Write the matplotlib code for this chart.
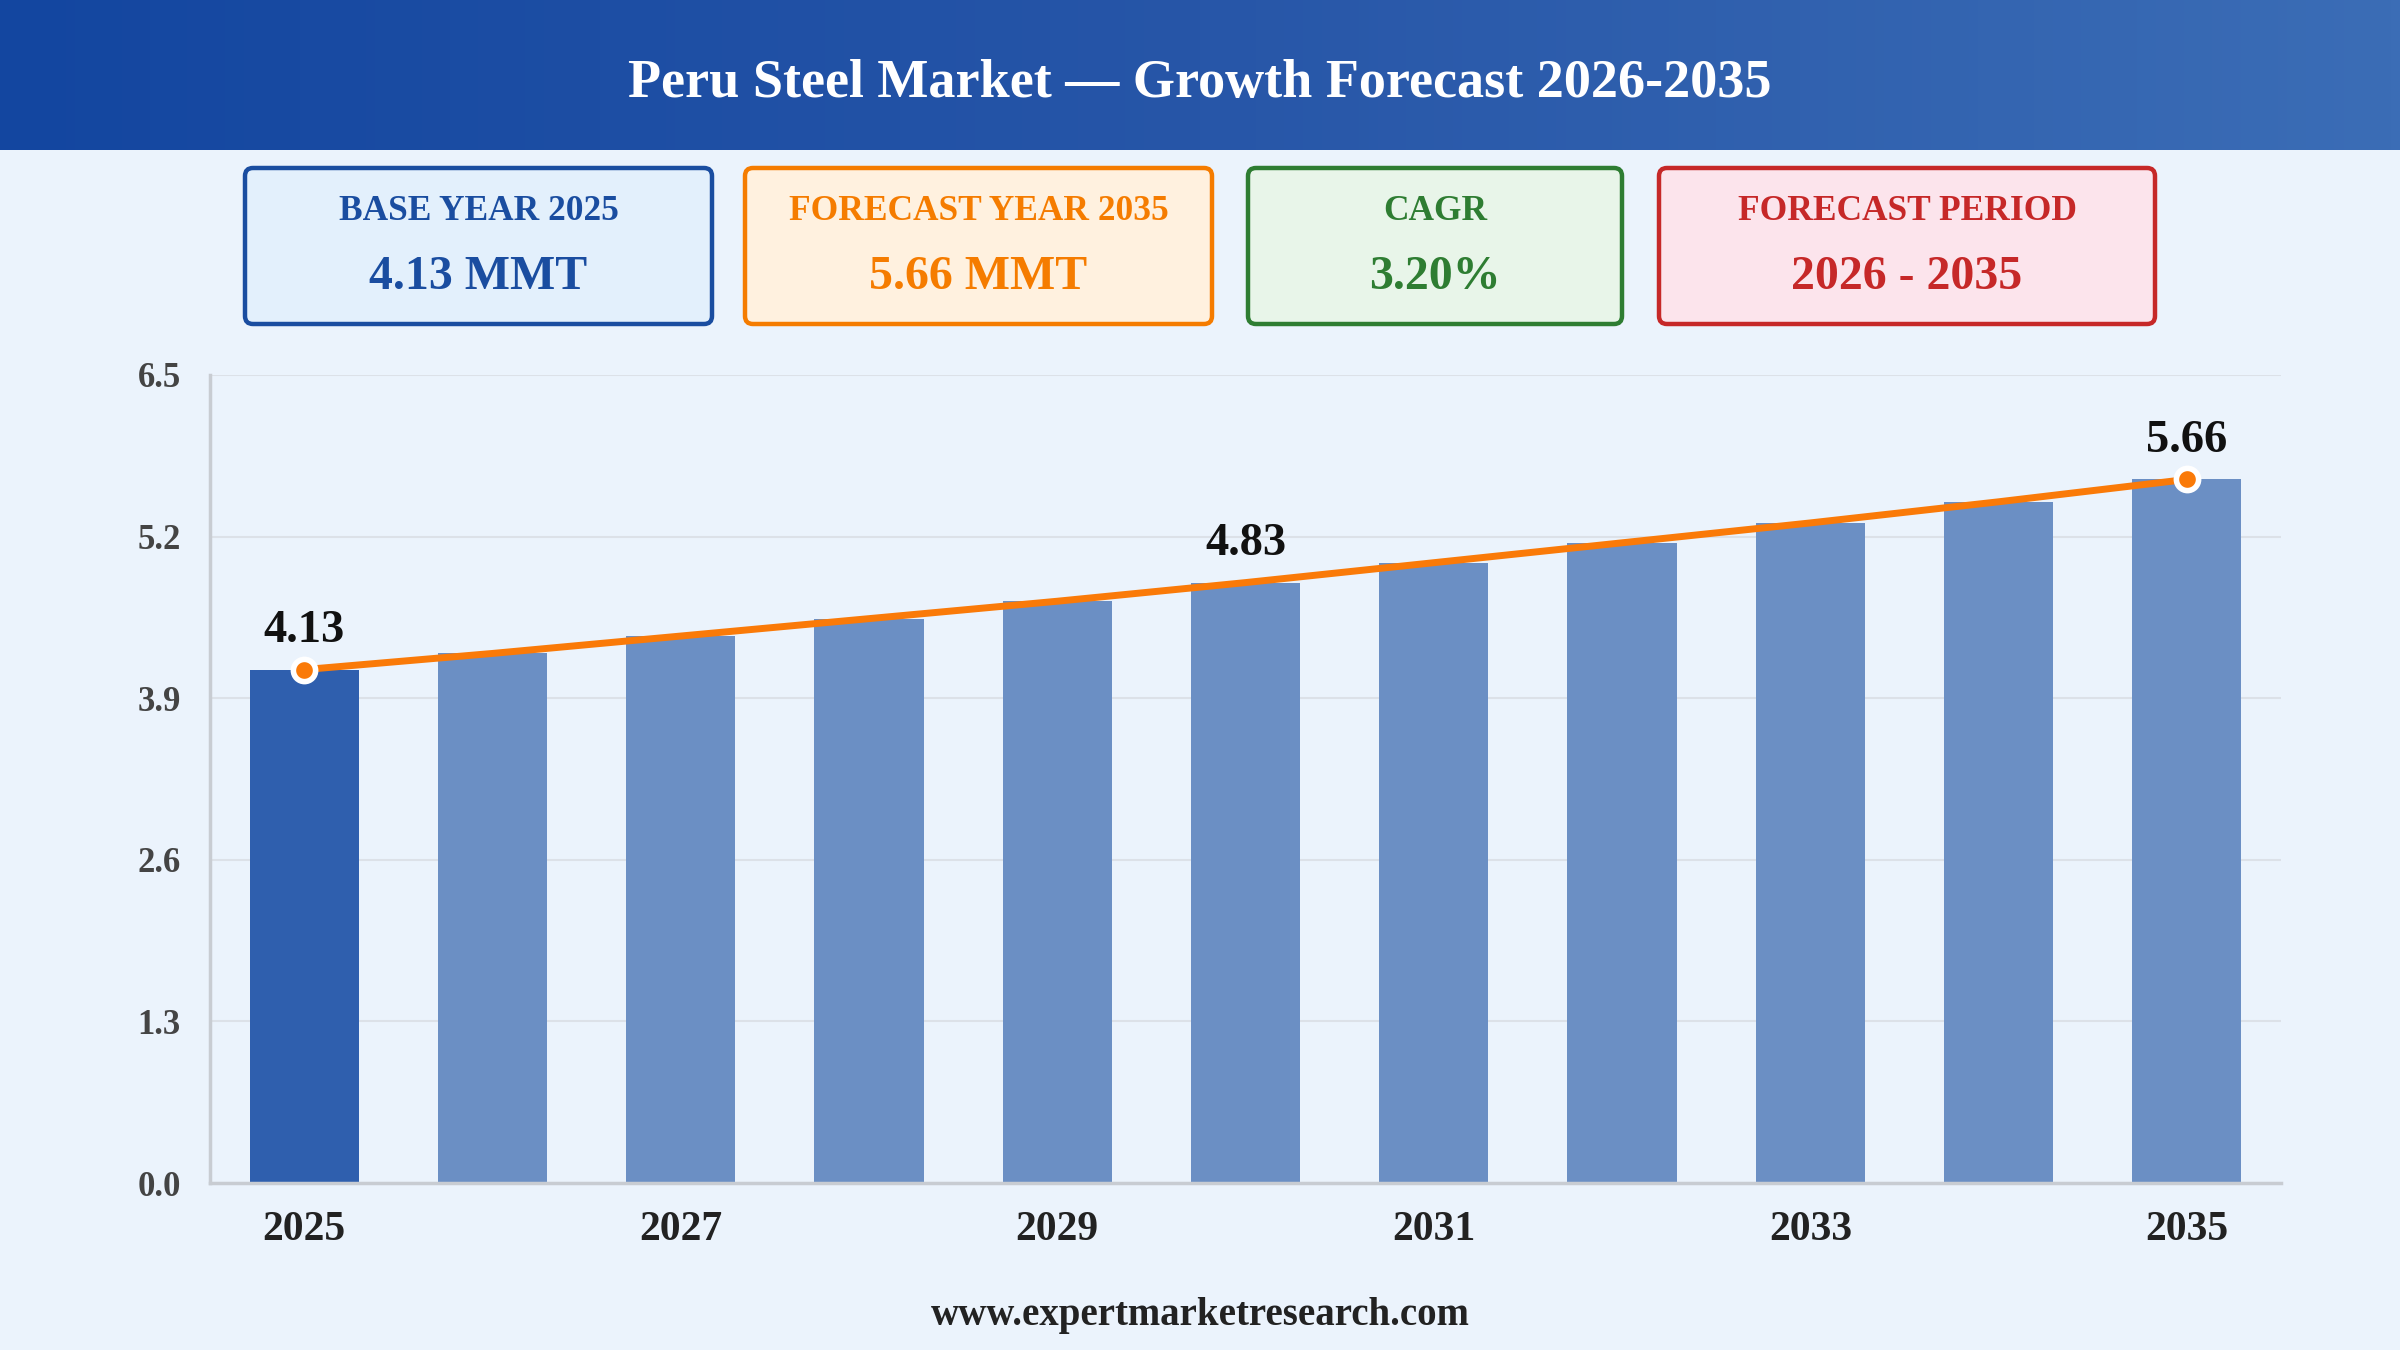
import numpy as np
import matplotlib
matplotlib.use("Agg")
import matplotlib.pyplot as plt
from matplotlib.patches import FancyBboxPatch
from matplotlib.colors import LinearSegmentedColormap

plt.rcParams['font.family'] = ['Liberation Serif', 'DejaVu Serif']
plt.rcParams['font.weight'] = 'bold'

# data
years = [2025, 2026, 2027, 2028, 2029, 2030, 2031, 2032, 2033, 2034, 2035]
volume = [4.13, 4.26, 4.40, 4.54, 4.68, 4.83, 4.99, 5.15, 5.31, 5.48, 5.66]
labelled_years = [2025, 2030, 2035]
marker_years = [2025, 2035]
y_ticks = [0.0, 1.3, 2.6, 3.9, 5.2, 6.5]
x_tick_years = [2025, 2027, 2029, 2031, 2033, 2035]

title = "Peru Steel Market \u2014 Growth Forecast 2026-2035"
card_titles = ["BASE YEAR 2025", "FORECAST YEAR 2035", "CAGR", "FORECAST PERIOD"]
card_values = ["4.13 MMT", "5.66 MMT", "3.20%", "2026 - 2035"]
footer = "www.expertmarketresearch.com"

# styles
bg_color = "#EBF3FC"
card_edges = ["#1A4DA0", "#F57C00", "#2E7D32", "#C62828"]
card_faces = ["#E3F0FC", "#FFF1DF", "#E8F5E9", "#FCE4EC"]
card_x = [(245, 712), (745, 1212), (1248, 1622), (1659, 2155)]
base_bar = "#2F5FAE"
other_bar = "#6B8FC4"
line_color = "#FA7A08"

fig = plt.figure(figsize=(24, 13.5), dpi=100)
fig.patch.set_facecolor(bg_color)

# background layer in pixel coordinates (top-left origin)
bg = fig.add_axes([0, 0, 1, 1])
bg.axis('off')

# header gradient
grad = np.linspace(0, 1, 256).reshape(1, -1)
hdr_cmap = LinearSegmentedColormap.from_list("hdr", ["#1346A0", "#2756A8", "#3B6DB6"])
bg.imshow(grad, cmap=hdr_cmap, extent=[0, 2400, 150, 0], aspect='auto', zorder=0)
bg.set_xlim(0, 2400)
bg.set_ylim(1350, 0)
bg.text(1200, 84, title, color='white', fontsize=39, fontweight='bold',
        ha='center', va='center')

# summary cards
for (x0, x1), edge, face, t, v in zip(card_x, card_edges, card_faces, card_titles, card_values):
    box = FancyBboxPatch((x0, 168), x1 - x0, 156,
                         boxstyle="round,pad=0,rounding_size=8",
                         facecolor=face, edgecolor=edge, linewidth=3.2, zorder=2)
    bg.add_patch(box)
    cx = (x0 + x1) / 2
    bg.text(cx, 212, t, color=edge, fontsize=25.5, fontweight='bold',
            ha='center', va='center', zorder=3)
    bg.text(cx, 277, v, color=edge, fontsize=34.5, fontweight='bold',
            ha='center', va='center', zorder=3)

bg.text(1200, 1315, footer, color='#222222', fontsize=28, fontweight='bold',
        ha='center', va='center')

# main chart
ax = fig.add_axes([210 / 2400, 1 - 1183 / 1350, (2281 - 210) / 2400, (1183 - 375) / 1350])
ax.patch.set_alpha(0)

x = np.arange(len(years))
colors = [base_bar] + [other_bar] * (len(years) - 1)
ax.bar(x, volume, width=0.58, color=colors, zorder=2)
ax.plot(x, volume, color=line_color, linewidth=5, zorder=3, solid_capstyle='round')

for yr in marker_years:
    i = years.index(yr)
    ax.plot(x[i], volume[i], 'o', markersize=16, markerfacecolor=line_color,
            markeredgecolor='white', markeredgewidth=4, zorder=4)

for yr in labelled_years:
    i = years.index(yr)
    ax.annotate(f"{volume[i]:.2f}", (x[i], volume[i]), xytext=(0, 28),
                textcoords='offset points', ha='center', va='center',
                fontsize=33.5, fontweight='bold', color='#111111', zorder=5)

ax.set_xlim(-0.5, len(years) - 0.5)
ax.set_ylim(0, 6.5)
ax.set_yticks(y_ticks)
ax.set_yticklabels([f"{t:.1f}" for t in y_ticks], fontsize=25, color='#444444', fontweight='bold')
ax.set_xticks([years.index(y) for y in x_tick_years])
ax.set_xticklabels([str(y) for y in x_tick_years], fontsize=30, color='#222222', fontweight='bold')
ax.tick_params(axis='both', length=0)
ax.tick_params(axis='y', pad=21)
ax.tick_params(axis='x', pad=20)

ax.grid(axis='y', color='#DCE1E8', linewidth=1.5, zorder=0)
ax.set_axisbelow(True)
for s in ['top', 'right']:
    ax.spines[s].set_visible(False)
for s in ['left', 'bottom']:
    ax.spines[s].set_color('#C8CCD2')
    ax.spines[s].set_linewidth(2.5)

fig.savefig("out.png", dpi=100, facecolor=fig.get_facecolor())
